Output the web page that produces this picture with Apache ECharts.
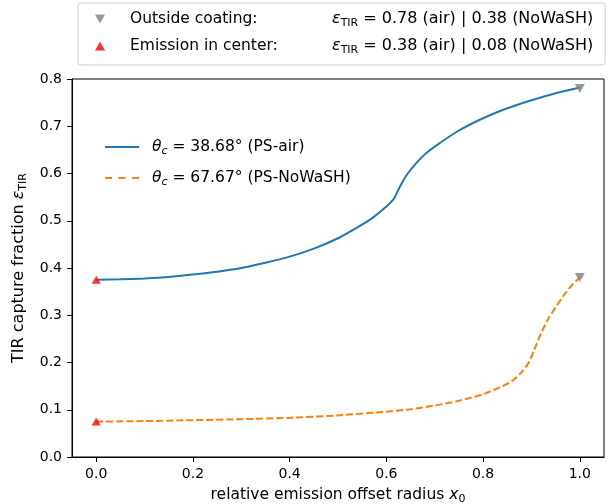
<!DOCTYPE html>
<html><head><meta charset="utf-8">
<script src="https://cdn.jsdelivr.net/npm/echarts@6/dist/echarts.min.js"></script>
<style>html,body{margin:0;padding:0;background:#fff}#c{width:611px;height:504px}</style>
</head><body><div id="c"></div>
<script>
// ---- data ----
const xTicks = [0, 0.2, 0.4, 0.6, 0.8, 1.0];
const yTicks = [0, 0.1, 0.2, 0.3, 0.4, 0.5, 0.6, 0.7, 0.8];

const airX = [0.00, 0.05, 0.10, 0.15, 0.20, 0.25, 0.30, 0.35, 0.40, 0.45, 0.50, 0.54, 0.57, 0.60, 0.615, 0.625, 0.635, 0.645, 0.66, 0.68, 0.70, 0.75, 0.80, 0.85, 0.90, 0.95, 1.00];
const airY = [0.375, 0.376, 0.378, 0.381, 0.386, 0.392, 0.400, 0.411, 0.424, 0.441, 0.463, 0.486, 0.505, 0.530, 0.546, 0.566, 0.585, 0.601, 0.620, 0.641, 0.657, 0.691, 0.717, 0.738, 0.755, 0.770, 0.782];

const nowashX = [0.00, 0.10, 0.20, 0.30, 0.40, 0.50, 0.60, 0.65, 0.70, 0.75, 0.80, 0.84, 0.86, 0.88, 0.895, 0.905, 0.92, 0.935, 0.95, 0.97, 0.985, 1.00];
const nowashY = [0.075, 0.076, 0.078, 0.080, 0.083, 0.088, 0.096, 0.101, 0.109, 0.119, 0.133, 0.150, 0.161, 0.180, 0.201, 0.225, 0.262, 0.293, 0.317, 0.347, 0.365, 0.380];

const outsideX = [1.0, 1.0];
const outsideY = [0.78, 0.38];
const centerX = [0.0, 0.0];
const centerY = [0.375, 0.075];

const seriesNames = ['air', 'nowash', 'Outside coating:', 'Emission in center:'];
// ---------------------------------------

const FF = 'DejaVu Sans';
const FS = 15.5;
const SS = 11;
const zip = (xs, ys) => xs.map((x, i) => [x, ys[i]]);
const downTri = 'path://M0,0L10,0L5,9Z';
const solidIcon = 'path://M0,0L34,0L34,2L0,2Z';
const dashIcon = 'path://M0,0L7,0L7,2L0,2Z M13.5,0L20.5,0L20.5,2L13.5,2Z M27,0L34,0L34,2L27,2Z';

const legendText = {
  'air': '{p| }{t|θ}{c|c}{n| = 38.68° (PS-air)}',
  'nowash': '{p| }{t|θ}{c|c}{n| = 67.67° (PS-NoWaSH)}',
  'Outside coating:': '{q| }{a|Outside coating:}{e|ε}{s|TIR}{b| = 0.78 (air) | 0.38 (NoWaSH)}',
  'Emission in center:': '{q| }{a|Emission in center:}{e|ε}{s|TIR}{b| = 0.38 (air) | 0.08 (NoWaSH)}'
};
const base = {fontSize: FS, lineHeight: 20, fontFamily: FF, color: '#000'};
const sub = {fontSize: SS, lineHeight: 12, verticalAlign: 'bottom', fontFamily: FF, color: '#000'};
const rich = {
  p: Object.assign({}, base, {width: 8}),
  q: Object.assign({}, base, {width: 20}),
  t: Object.assign({}, base, {fontStyle: 'italic'}),
  c: Object.assign({}, sub, {fontStyle: 'italic'}),
  n: base,
  a: Object.assign({}, base, {width: 202}),
  e: Object.assign({}, base, {fontStyle: 'italic', fontSize: 16}),
  s: sub,
  b: Object.assign({}, base, {fontSize: 16})
};

const chart = echarts.init(document.getElementById('c'), null, {renderer: 'canvas'});
chart.setOption({
  animation: false,
  backgroundColor: '#fff',
  textStyle: {fontFamily: FF, color: '#000'},
  grid: {left: 72, right: 7, top: 79, bottom: 47, show: true, borderColor: '#000', borderWidth: 1, containLabel: false, outerBoundsMode: 'none'},
  legend: [
    {
      data: [{name: seriesNames[2], icon: downTri}, {name: seriesNames[3], icon: 'triangle'}],
      orient: 'vertical', left: 78, top: 3,
      padding: [8, 12, 9, 17],
      itemWidth: 10, itemHeight: 9, itemGap: 9,
      borderColor: '#cccccc', borderWidth: 1, borderRadius: 3, backgroundColor: '#fff',
      formatter: n => legendText[n],
      textStyle: {fontFamily: FF, fontSize: FS, color: '#000', rich: rich},
      selectedMode: false
    },
    {
      data: [{name: seriesNames[0], icon: solidIcon}, {name: seriesNames[1], icon: dashIcon}],
      orient: 'vertical', left: 105, top: 139,
      padding: 0,
      itemWidth: 34, itemHeight: 2, itemGap: 13,
      formatter: n => legendText[n],
      textStyle: {fontFamily: FF, fontSize: FS, color: '#000', rich: rich},
      selectedMode: false
    }
  ],
  xAxis: {
    type: 'value', min: -0.05, max: 1.05,
    name: '{n|relative emission offset radius }{x|x}{s|0}',
    nameLocation: 'middle', nameGap: 28,
    nameTextStyle: {fontFamily: FF, fontSize: FS, color: '#000', rich: {
      n: base, x: Object.assign({}, base, {fontStyle: 'italic'}), s: sub
    }},
    axisLine: {onZero: false, lineStyle: {color: '#000', width: 1}},
    axisTick: {show: true, customValues: xTicks, length: 5, lineStyle: {color: '#000', width: 1}},
    axisLabel: {customValues: xTicks, formatter: v => v.toFixed(1), margin: 10, fontSize: 14, fontFamily: FF, color: '#000'},
    splitLine: {show: false}
  },
  yAxis: {
    type: 'value', min: 0, max: 0.8,
    name: '{n|TIR capture fraction }{e|ε}{s|TIR}',
    nameLocation: 'middle', nameGap: 37,
    nameTextStyle: {fontFamily: FF, fontSize: FS, color: '#000', rich: {
      n: Object.assign({}, base, {fontSize: 16}), e: Object.assign({}, base, {fontSize: 16, fontStyle: 'italic'}), s: sub
    }},
    axisLine: {show: true, onZero: false, lineStyle: {color: '#000', width: 1}},
    axisTick: {show: true, customValues: yTicks, length: 5, lineStyle: {color: '#000', width: 1}},
    axisLabel: {customValues: yTicks, formatter: v => v.toFixed(1), margin: 10, fontSize: 14, fontFamily: FF, color: '#000'},
    splitLine: {show: false}
  },
  series: [
    {name: seriesNames[0], type: 'line', data: zip(airX, airY), symbol: 'none', showSymbol: false,
     smooth: 0.25,
     color: '#1f77b4', lineStyle: {color: '#1f77b4', width: 2}, z: 2},
    {name: seriesNames[1], type: 'line', data: zip(nowashX, nowashY), symbol: 'none', showSymbol: false,
     smooth: 0.25,
     color: '#ff7f0e', lineStyle: {color: '#ff7f0e', width: 2, type: [7, 3]}, z: 2},
    {name: seriesNames[2], type: 'scatter', data: zip(outsideX, outsideY), symbol: downTri, symbolSize: [10, 9],
     itemStyle: {color: '#808080'}, z: 4},
    {name: seriesNames[3], type: 'scatter', data: zip(centerX, centerY), symbol: 'triangle', symbolSize: [9, 8],
     itemStyle: {color: '#ff0000'}, z: 4}
  ]
});
</script></body></html>
